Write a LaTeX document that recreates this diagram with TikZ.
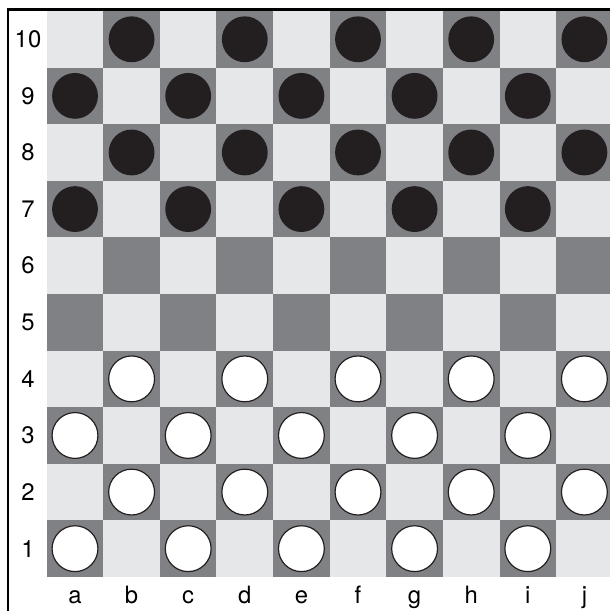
\documentclass[tikz,border=0pt]{standalone}
\usepackage{fontspec}
\setmainfont{TeX Gyre Heros}
\definecolor{darksq}{RGB}{128,129,132}
\definecolor{lightsq}{RGB}{230,231,232}
\definecolor{manblack}{RGB}{35,31,32}

\begin{document}
\begin{tikzpicture}[
        darksquare/.style={fill=darksq},
        lightsquare/.style={fill=lightsq},
        man/.style={circle, inner sep=0pt, minimum size=0.81cm},
        blackman/.style={man, fill=manblack},
        whiteman/.style={man, fill=white, draw=manblack, line width=0.6pt},
        lbl/.style={font=\large, inner sep=0pt}
    ]
        \clip (-0.825,-0.601) rectangle (9.952,10.194);

        % Squares
        \foreach \c in {0,...,9} {
            \foreach \r in {0,...,9} {
                \pgfmathtruncatemacro{\parity}{mod(\c+\r,2)}
                \ifnum\parity=0
                    \fill[darksquare] (\c,\r) rectangle ++(1,1);
                \else
                    \fill[lightsquare] (\c,\r) rectangle ++(1,1);
                \fi
            }
        }

        % Men
        \foreach \r in {6,...,9} {
            \foreach \c in {0,...,9} {
                \pgfmathtruncatemacro{\parity}{mod(\c+\r,2)}
                \ifnum\parity=0
                    \node (b-\c-\r) [blackman] at (\c+0.5,\r+0.5) {};
                \fi
            }
        }
        \foreach \r in {0,...,3} {
            \foreach \c in {0,...,9} {
                \pgfmathtruncatemacro{\parity}{mod(\c+\r,2)}
                \ifnum\parity=0
                    \node (w-\c-\r) [whiteman] at (\c+0.5,\r+0.5) {};
                \fi
            }
        }

        % Labels
        \foreach \n in {1,...,10}
            \node (row-\n) [lbl] at (-0.33,\n-0.5) {\n};
        \foreach \l [count=\i from 0] in {a,b,c,d,e,f,g,h,i,j}
            \node (col-\l) [lbl, anchor=base] at (\i+0.5,-0.46) {\l};

        % Frame
        \draw[line width=1.2pt] (-0.684,-1) |- (11,10.027);
    \end{tikzpicture}
\end{document}
